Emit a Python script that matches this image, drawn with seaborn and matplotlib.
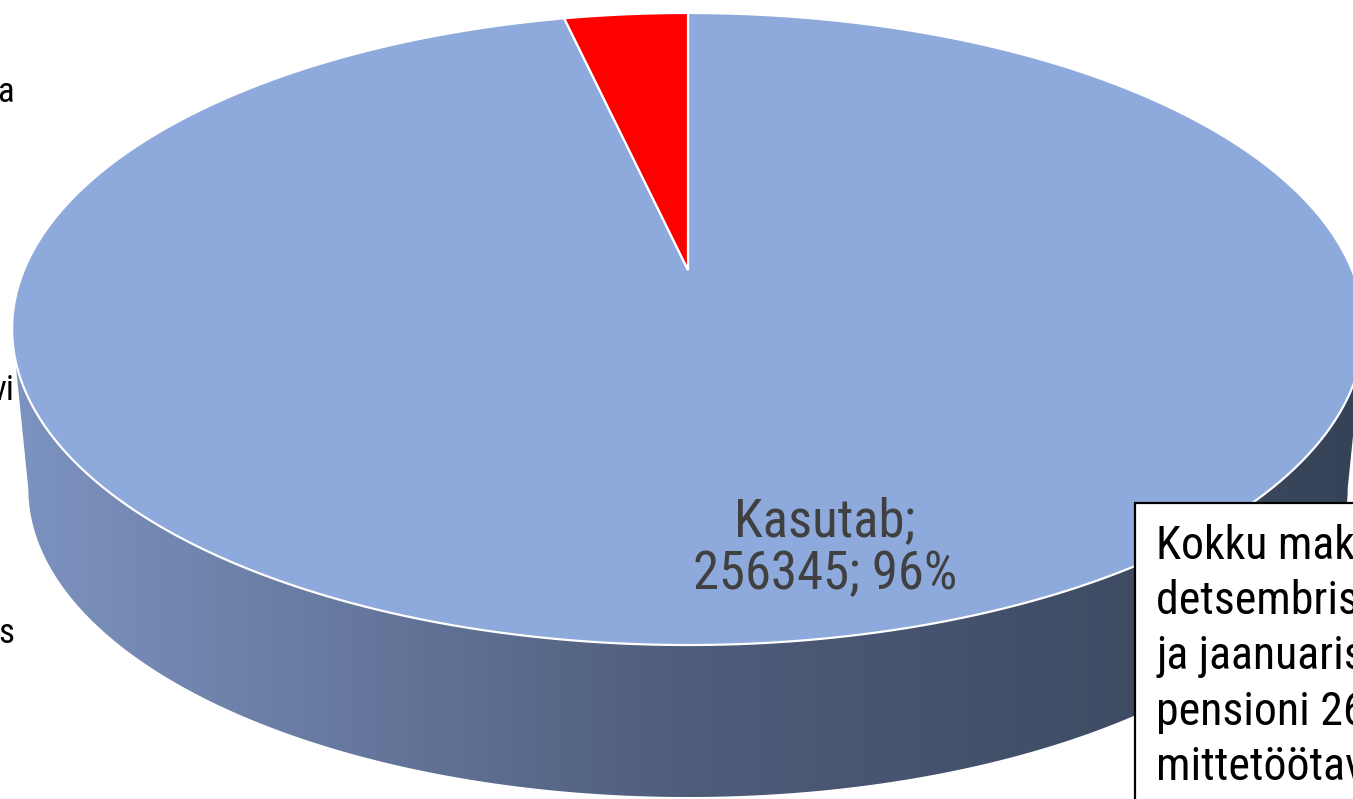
import numpy as np
import matplotlib
matplotlib.use("Agg")
import matplotlib.pyplot as plt
import matplotlib.transforms as mtransforms
from matplotlib.path import Path
from matplotlib.patches import PathPatch
from matplotlib.colors import LinearSegmentedColormap
import seaborn as sns

# data
categories = ["Kasutab", "Ei kasuta"]
values = [256345, 9400]
slice_colors = ["#8EA9DB", "#FF0000"]
box_lines = ["Kokku makseid", "detsembris 2019", "ja jaanuaris 2020",
             "pensioni 265 tuhat", "mittetöötavale"]
left_fragments = ["a", "vi", "s"]

sns.set_theme(style="white")
plt.rcParams["font.family"] = ["Roboto Condensed", "Liberation Sans Narrow", "Roboto", "DejaVu Sans"]

W, H = 1353, 799


class Tilt(mtransforms.Transform):
    """Perspective view of the unit pie lying flat, in pixel coords."""
    input_dims = output_dims = 2
    is_separable = False
    has_inverse = False

    def __init__(self, cx, cy, rx, ry, p):
        super().__init__()
        self.cx, self.cy, self.rx, self.ry, self.p = cx, cy, rx, ry, p

    def transform_non_affine(self, values):
        pts = np.atleast_2d(np.asarray(values, dtype=float))
        w = 1 + self.p * pts[:, 1]
        return np.column_stack([self.cx + self.rx * pts[:, 0] / w,
                                self.cy - self.ry * pts[:, 1] / w])

    def transform_path_non_affine(self, path):
        t = np.linspace(0, 1, 80)
        pts = np.concatenate([seg(t) for seg, code in path.iter_bezier()])
        pts = np.vstack([pts, pts[:1]])
        return Path(self.transform_non_affine(pts), closed=True)


cx, cy, p = 688, 270, 0.1867
tilt = Tilt(cx, cy, 664, 305, p)
depth, shrink = 161, 0.976

fig = plt.figure(figsize=(W / 100, H / 100), dpi=100)
ax = fig.add_axes([0, 0, 1, 1])

wedges, _ = ax.pie(values, colors=slice_colors, startangle=90, counterclock=False,
                   wedgeprops=dict(edgecolor="white", linewidth=1.6))
for w in wedges:
    w.set_transform(tilt + ax.transData)
    w.set_zorder(3)

# side wall of the disc
q = np.arcsin(p)
t = np.linspace(np.pi + q, 2 * np.pi - q, 300)
rim = tilt.transform(np.column_stack([np.cos(t), np.sin(t)]))
base = np.column_stack([cx + shrink * (rim[:, 0] - cx),
                        cy + depth + shrink * (rim[:, 1] - cy)])
outline = np.vstack([rim, base[::-1], rim[:1]])
side = PathPatch(Path(outline, closed=True), facecolor="none", edgecolor="none", zorder=1)
ax.add_patch(side)
side_cmap = LinearSegmentedColormap.from_list("side", ["#7d93c0", "#4f5d7b", "#364257"])
im = ax.imshow(np.linspace(0, 1, 256)[None, :], cmap=side_cmap, aspect="auto",
               extent=(outline[:, 0].min(), outline[:, 0].max(), outline[:, 1].max(), outline[:, 1].min()),
               zorder=1)
im.set_clip_path(side)

# data label
total = sum(values)
ax.text(825, 548, f"{categories[0]};\n{values[0]}; {values[0] / total * 100:.0f}%",
        ha="center", va="center", fontsize=38, color="#404040", linespacing=1.05, zorder=5)

# note box, cut off by the right and bottom edges
ax.text(1156, 524, "\n".join(box_lines), ha="left", va="top", fontsize=33, color="black",
        linespacing=1.32, zorder=6,
        bbox=dict(boxstyle="square,pad=0.45", facecolor="white", edgecolor="black", linewidth=1.6))

# legend words cut off by the left edge
for word, yb in zip(left_fragments, [102, 400, 643]):
    ax.text(14, yb, word, ha="right", va="baseline", fontsize=25, color="black")

ax.set_aspect("auto")
ax.set_xlim(0, W)
ax.set_ylim(H, 0)
ax.axis("off")

fig.savefig("out.png", dpi=100)
